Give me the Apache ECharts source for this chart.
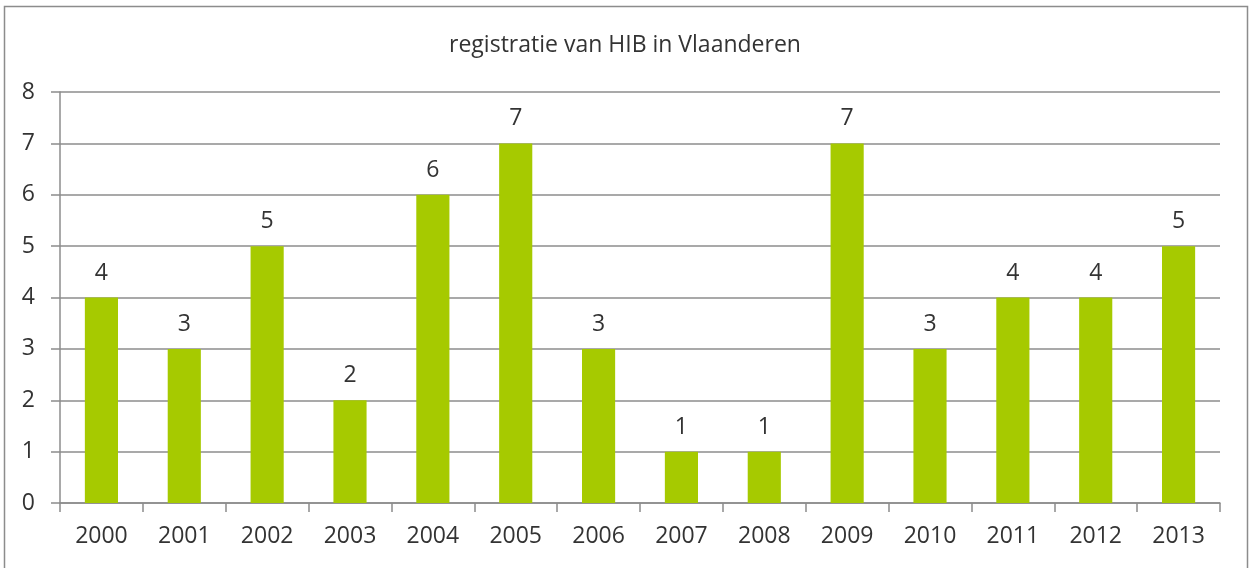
<!DOCTYPE html>
<html>
<head>
<meta charset="utf-8">
<script src="https://cdn.jsdelivr.net/npm/echarts@6/dist/echarts.min.js"></script>
<style>
  html, body { margin: 0; padding: 0; background: #fff; }
  #chart { width: 1250px; height: 568px; }
</style>
</head>
<body>
<div id="chart"></div>
<script>
// Registered HIB cases per year in Flanders
const years = ['2000', '2001', '2002', '2003', '2004', '2005', '2006', '2007', '2008', '2009', '2010', '2011', '2012', '2013'];
const counts = [4, 3, 5, 2, 6, 7, 3, 1, 1, 7, 3, 4, 4, 5];
const titleText = 'registratie van HIB in Vlaanderen';

const lineColor = '#8c8c8c';
const textColor = '#333333';
const font = '"Open Sans", "Noto Sans", sans-serif';

const chart = echarts.init(document.getElementById('chart'), null, { renderer: 'canvas' });
chart.setOption({
  backgroundColor: '#ffffff',
  animation: false,
  graphic: [{
    type: 'rect',
    shape: { x: 4.5, y: 6.5, width: 1243, height: 580 },
    style: { fill: 'none', stroke: '#8c8c8c', lineWidth: 1.5 },
    silent: true
  }],
  title: {
    text: titleText,
    left: 'center',
    top: 29,
    textStyle: { fontFamily: font, fontSize: 23, fontWeight: 'normal', color: textColor }
  },
  grid: { left: 60, right: 30, top: 92, bottom: 65, containLabel: false },
  xAxis: {
    type: 'category',
    data: years,
    boundaryGap: true,
    axisLine: { show: true, lineStyle: { color: lineColor, width: 1.5 } },
    axisTick: { show: true, length: 9, alignWithLabel: false, lineStyle: { color: lineColor, width: 1.5 } },
    axisLabel: { margin: 22, fontFamily: font, fontSize: 23, color: textColor }
  },
  yAxis: {
    type: 'value',
    min: 0,
    max: 8,
    interval: 1,
    axisLine: { show: true, lineStyle: { color: lineColor, width: 1.5 } },
    axisTick: { show: true, length: 9, lineStyle: { color: lineColor, width: 1.5 } },
    axisLabel: { margin: 25, fontFamily: font, fontSize: 23, color: textColor },
    splitLine: { show: true, lineStyle: { color: lineColor, width: 1.5 } }
  },
  series: [{
    type: 'bar',
    data: counts,
    barWidth: '40%',
    itemStyle: { color: '#a6ca00' },
    label: {
      show: true,
      position: 'top',
      distance: 13,
      fontFamily: font,
      fontSize: 23,
      color: textColor
    }
  }]
});
</script>
</body>
</html>
